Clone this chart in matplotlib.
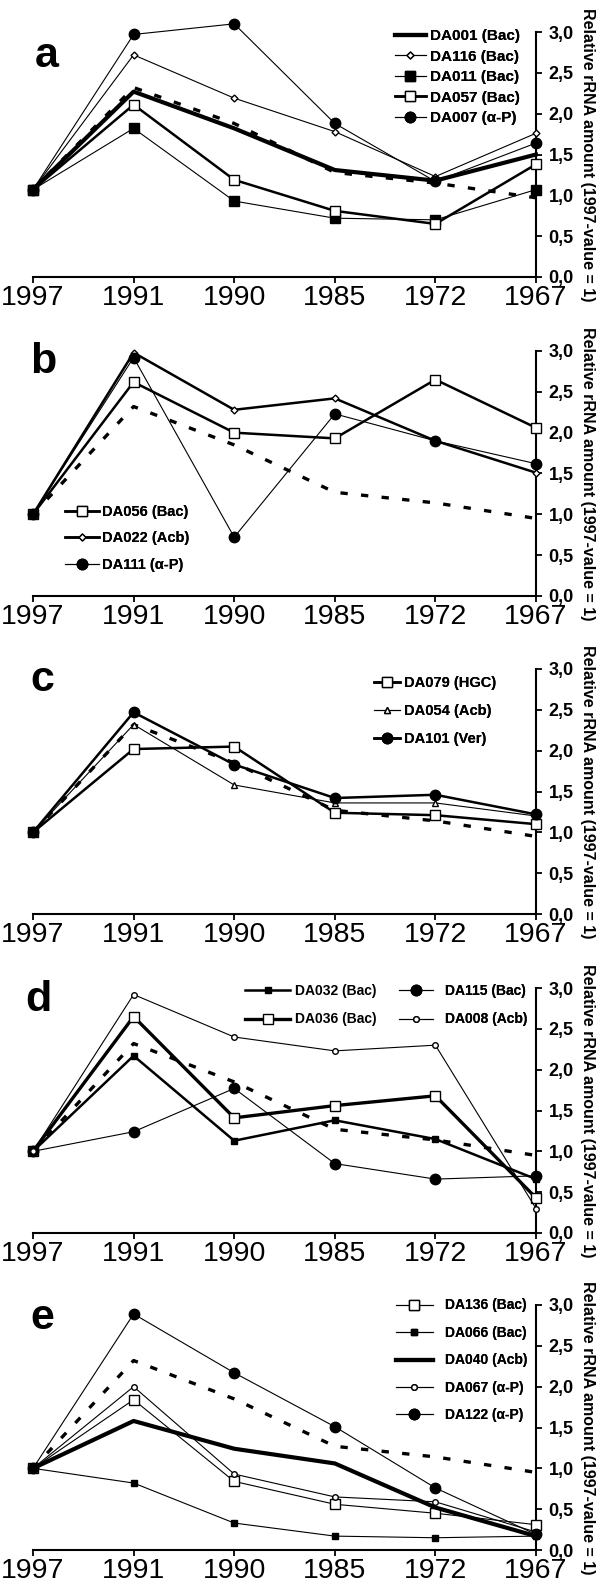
import matplotlib
matplotlib.use("Agg")
import matplotlib.pyplot as plt
from matplotlib.ticker import FixedLocator, FuncFormatter
from matplotlib import font_manager

plt.rcParams['font.family'] = ['Liberation Sans', 'DejaVu Sans']
names = {f.name for f in font_manager.fontManager.ttflist}
YEARFONT = ['Liberation Sans Narrow', 'Liberation Sans'] if 'Liberation Sans Narrow' in names else ['Liberation Sans']

# ---------------- data ----------------
years = ['1997', '1991', '1990', '1985', '1972', '1967']
yticks = [0.0, 0.5, 1.0, 1.5, 2.0, 2.5, 3.0]
ref_a = [1.07, 2.32, 1.88, 1.28, 1.15, 0.97]
ref = [1.0, 2.32, 1.85, 1.27, 1.14, 0.95]

a_DA001 = [1.07, 2.27, 1.82, 1.31, 1.18, 1.50]
a_DA116 = [1.07, 2.72, 2.19, 1.78, 1.23, 1.76]
a_DA011 = [1.07, 1.82, 0.93, 0.72, 0.70, 1.07]
a_DA057 = [1.07, 2.11, 1.19, 0.81, 0.65, 1.38]
a_DA007 = [1.07, 2.97, 3.10, 1.88, 1.17, 1.64]

b_DA056 = [1.0, 2.62, 2.00, 1.93, 2.65, 2.06]
b_DA022 = [1.0, 2.98, 2.28, 2.42, 1.90, 1.51]
b_DA111 = [1.0, 2.92, 0.72, 2.23, 1.90, 1.62]

c_DA079 = [1.0, 2.02, 2.05, 1.24, 1.21, 1.10]
c_DA054 = [1.0, 2.32, 1.58, 1.36, 1.36, 1.20]
c_DA101 = [1.0, 2.47, 1.83, 1.42, 1.46, 1.22]

d_DA032 = [1.0, 2.17, 1.13, 1.38, 1.15, 0.66]
d_DA115 = [1.0, 1.24, 1.77, 0.85, 0.66, 0.70]
d_DA036 = [1.0, 2.65, 1.41, 1.56, 1.68, 0.43]
d_DA008 = [1.0, 2.92, 2.40, 2.23, 2.30, 0.30]

e_DA136 = [1.0, 1.84, 0.84, 0.56, 0.45, 0.31]
e_DA066 = [1.0, 0.82, 0.33, 0.17, 0.15, 0.17]
e_DA040 = [1.0, 1.58, 1.24, 1.06, 0.52, 0.17]
e_DA067 = [1.0, 2.00, 0.93, 0.65, 0.59, 0.22]
e_DA122 = [1.0, 2.89, 2.17, 1.51, 0.76, 0.19]

# ---------------- styles ----------------
THICK, MED, THIN = 3.0, 1.8, 0.8
def st(lw, marker=None, ms=0, fill='black'):
    return dict(lw=lw, marker=marker, ms=ms, mfc=fill, mec='black', mew=1.0)

AXH = 245
# legends: (series indices, x of handle start [year index], y of first row [data],
#           row pitch px, handlelength, handletextpad, fontsize)
panels = [
    dict(letter='a', bot=277, ref=ref_a,
         series=[('DA001 (Bac)', a_DA001, st(THICK)),
                 ('DA116 (Bac)', a_DA116, st(THIN, 'D', 3.5, 'white')),
                 ('DA011 (Bac)', a_DA011, st(THIN, 's', 6.5)),
                 ('DA057 (Bac)', a_DA057, st(MED, 's', 7, 'white')),
                 ('DA007 (\u03b1-P)', a_DA007, st(THIN, 'o', 7.5))],
         legs=[([0, 1, 2, 3, 4], 3.6, 2.95, 21, 2.0, 0.25, 11)], lpos=(47, 56)),
    dict(letter='b', bot=596, ref=ref,
         series=[('DA056 (Bac)', b_DA056, st(MED, 's', 7, 'white')),
                 ('DA022 (Acb)', b_DA022, st(MED, 'D', 3.5, 'white')),
                 ('DA111 (\u03b1-P)', b_DA111, st(THIN, 'o', 7.5))],
         legs=[([0, 1, 2], 0.321, 1.03, 26, 2.3, 0.25, 10.5)], lpos=(43, 362)),
    dict(letter='c', bot=914, ref=ref,
         series=[('DA079 (HGC)', c_DA079, st(MED, 's', 7, 'white')),
                 ('DA054 (Acb)', c_DA054, st(THIN, '^', 4, 'white')),
                 ('DA101 (Ver)', c_DA101, st(MED, 'o', 7.5))],
         legs=[([0, 1, 2], 3.393, 2.83, 27.5, 1.75, 0.25, 10.5)], lpos=(42, 680)),
    dict(letter='d', bot=1233, ref=ref,
         series=[('DA032 (Bac)', d_DA032, st(MED, 's', 4.5)),
                 ('DA036 (Bac)', d_DA036, st(THICK - 0.6, 's', 7, 'white')),
                 ('DA115 (Bac)', d_DA115, st(THIN, 'o', 7.5)),
                 ('DA008 (Acb)', d_DA008, st(THIN, 'o', 4, 'white'))],
         legs=[([0, 1], 2.112, 2.97, 27.5, 3.2, 0.4, 10),
               ([2, 3], 3.642, 2.97, 27.5, 2.45, 0.8, 10)], lpos=(38, 1000)),
    dict(letter='e', bot=1550, ref=ref,
         series=[('DA136 (Bac)', e_DA136, st(THIN, 's', 7, 'white')),
                 ('DA066 (Bac)', e_DA066, st(THIN, 's', 4.5)),
                 ('DA040 (Acb)', e_DA040, st(THICK)),
                 ('DA067 (\u03b1-P)', e_DA067, st(THIN, 'o', 4, 'white')),
                 ('DA122 (\u03b1-P)', e_DA122, st(THIN, 'o', 7.5))],
         legs=[([0, 1, 2, 3, 4], 3.604, 3.0, 26.5, 2.7, 0.85, 10)], lpos=(42, 1318)),
]

W, H = 598, 1586
fig = plt.figure(figsize=(W / 100, H / 100), dpi=100)
X0, X1 = 33, 536
xpos = list(range(len(years)))

for p in panels:
    top = p['bot'] - AXH
    ax = fig.add_axes([X0 / W, 1 - p['bot'] / H, (X1 - X0) / W, AXH / H])
    ax.set_xlim(0, len(years) - 1)
    ax.set_ylim(0, 3.0)
    ax.patch.set_alpha(0)
    for s in ['top', 'left']:
        ax.spines[s].set_visible(False)
    for s in ['bottom', 'right']:
        ax.spines[s].set_linewidth(1.5)
    ax.yaxis.tick_right()
    ax.yaxis.set_major_locator(FixedLocator(yticks))
    ax.yaxis.set_major_formatter(FuncFormatter(lambda v, _: f'{v:.1f}'.replace('.', ',')))
    ax.set_xticks(xpos)
    ax.set_xticklabels(years, family=YEARFONT)
    ax.tick_params(axis='x', direction='out', length=4, width=1.3, labelsize=20.5, pad=1.5)
    ax.tick_params(axis='y', direction='out', length=4, width=1.3, labelsize=13, pad=5)
    for t in ax.get_yticklabels():
        t.set_fontweight('bold')

    ax.plot(xpos, p['ref'], color='black', lw=2.4, ls=(0, (2.2, 4.0)), clip_on=False, zorder=2)
    handles = []
    for label, vals, sty in p['series']:
        h, = ax.plot(xpos, vals, color='black', clip_on=False, zorder=3, label=label, **sty)
        handles.append(h)

    for (idxs, hx, hy, pitch, hl, htp, fs) in p['legs']:
        fs_px = fs * 100 / 72
        ls = (pitch - 0.94 * fs_px) / fs_px
        ytop = hy / 3.0 + (0.47 * fs_px) / AXH
        leg = ax.legend(handles=[handles[i] for i in idxs], loc='upper left',
                        bbox_to_anchor=(hx / (len(years) - 1), ytop),
                        bbox_transform=ax.transAxes, ncol=1,
                        frameon=False, borderpad=0, borderaxespad=0,
                        handlelength=hl, handletextpad=htp, labelspacing=ls,
                        prop=dict(weight='bold', size=fs))
        ax.add_artist(leg)
    fig.text(p['lpos'][0] / W, 1 - p['lpos'][1] / H, p['letter'], fontsize=31,
             fontweight='bold', ha='center', va='center')
    fig.text(587 / W, 1 - (top + p['bot']) / 2 / H,
             'Relative rRNA amount (1997-value = 1)', rotation=270,
             fontsize=11.5, fontweight='bold', ha='center', va='center')

fig.savefig('out.png', dpi=100)
